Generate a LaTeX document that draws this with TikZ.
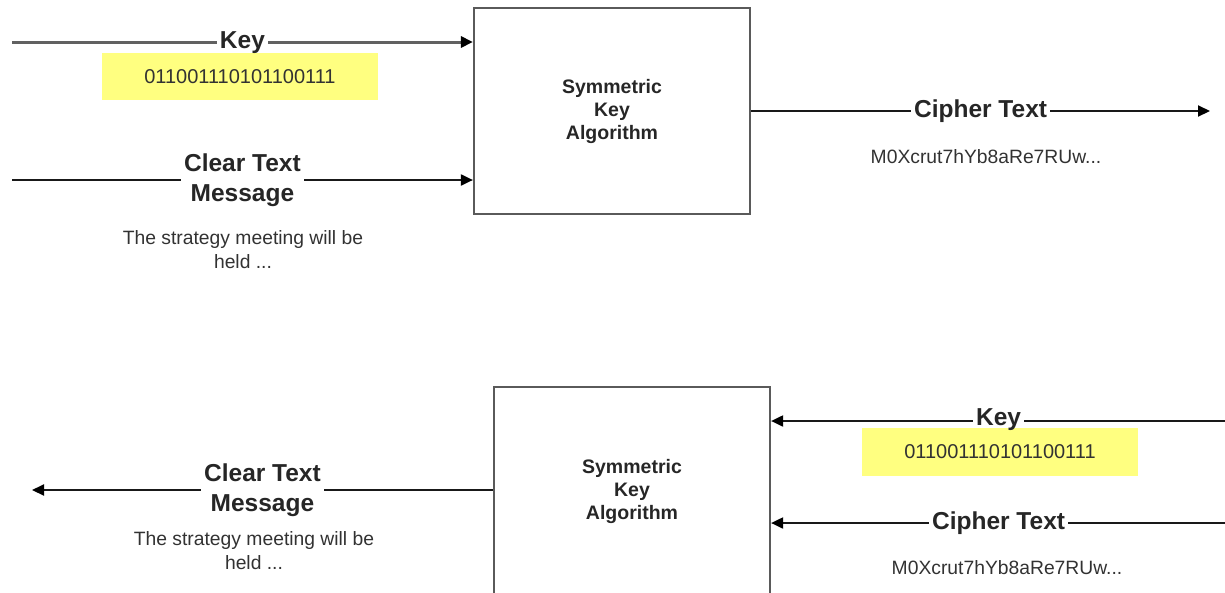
\documentclass[tikz,border=0pt]{standalone}
\usepackage{fontspec}
\setmainfont{Liberation Sans}
\usetikzlibrary{arrows.meta}
\definecolor{keyyellow}{RGB}{255,255,128}
\definecolor{txtgray}{RGB}{50,50,50}
\definecolor{boxgray}{RGB}{90,90,90}
\begin{document}
\begin{tikzpicture}[x=1pt,y=-1pt,
  algbox/.style={draw=boxgray, line width=2.2pt, minimum width=276pt, minimum height=206pt,
    align=center, inner sep=0pt, text=black!85, font=\bfseries\fontsize{19.5}{23}\selectfont},
  lbl/.style={fill=white, inner xsep=3pt, inner ysep=1pt, align=center, text=black!85,
    font=\bfseries\fontsize{24.5}{30}\selectfont},
  keylbl/.style={lbl, text depth=0pt},
  conn/.style={draw=black!90, line width=2pt, -{Triangle[length=12pt,width=11pt,color=black]}},
  keyconn/.style={conn, draw=black!62, line width=3pt},
  keybox/.style={fill=keyyellow, minimum width=276pt, minimum height=47pt, inner sep=0pt,
    text=txtgray, font=\fontsize{20}{24}\selectfont},
  msg/.style={align=center, text=txtgray, inner sep=0pt, font=\fontsize{19.3}{24}\selectfont}]
\useasboundingbox (0,0) rectangle (1225,592);

% ---- encryption (top) ----
\node[algbox] (box1) at (612,111) {Symmetric\\Key\\Algorithm};
\coordinate (k1s) at (12,42);
\coordinate (c1s) at (12,180);
\coordinate (o1e) at (1210,111);
\node[keybox] (k1v) at (240,76.5) {011001110101100111};
\draw[keyconn] (k1s) -- (box1.west |- k1s) node[midway,keylbl,yshift=2pt] (k1l) {Key};
\draw[conn] (c1s) -- (box1.west |- c1s) node[midway,lbl] (c1l) {Clear Text\\Message};
\node[msg] (m1) at (243,250) {The strategy meeting will be\\held ...};
\draw[conn] (box1.east |- o1e) -- (o1e) node[midway,lbl] (o1l) {Cipher Text};
\node[msg] (o1v) at (986,157) {M0Xcrut7hYb8aRe7RUw...};

% ---- decryption (bottom) ----
\node[algbox, minimum height=209pt] (box2) at (632,491.5) {Symmetric\\Key\\Algorithm};
\coordinate (k2s) at (1226,421);
\coordinate (c2s) at (1226,523);
\coordinate (p2e) at (32,490);
\node[keybox, minimum height=48pt] (k2v) at (1000,452) {011001110101100111};
\draw[conn] (k2s) -- (box2.east |- k2s) node[midway,keylbl,yshift=3.5pt] (k2l) {Key};
\draw[conn] (c2s) -- (box2.east |- c2s) node[midway,lbl] (c2l) {Cipher Text};
\node[msg] (o2v) at (1007,568) {M0Xcrut7hYb8aRe7RUw...};
\draw[conn] (box2.west |- p2e) -- (p2e) node[midway,lbl] (p2l) {Clear Text\\Message};
\node[msg] (m2) at (254,551) {The strategy meeting will be\\held ...};
\end{tikzpicture}
\end{document}
